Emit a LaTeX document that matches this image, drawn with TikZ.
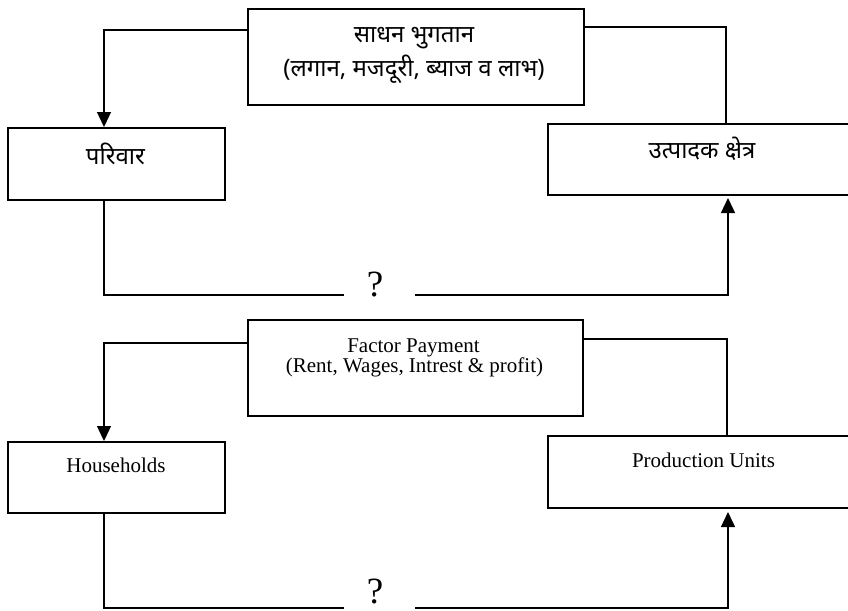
\documentclass[tikz,border=0pt]{standalone}
\usepackage{fontspec}
\setmainfont{Liberation Serif}
\newfontfamily\deva[Script=Devanagari]{Noto Sans}
\usetikzlibrary{arrows.meta}
\begin{document}
\begin{tikzpicture}[x=1pt,y=-1pt,
  boxst/.style={draw,line width=1.6pt,inner sep=0pt},
  conn/.style={line width=1.3pt},
  arr/.style={conn,-{Triangle[length=15pt,width=14pt]}},
  deng/.style={font=\fontsize{21}{24}\selectfont,anchor=base,inner sep=0pt},
  dhin/.style={font=\deva\fontsize{24}{28}\selectfont,anchor=base,inner sep=0pt},
  qst/.style={font=\fontsize{37}{40}\selectfont,inner sep=0pt}]
\useasboundingbox (0,0) rectangle (848,610);
% text nodes
\node[dhin] (tb1a) at (414,42) {साधन भुगतान};
\node[dhin] (tb1b) at (414,76) {(लगान, मजदूरी, ब्याज व लाभ)};
\node[dhin] (hh1t) at (115.5,164) {परिवार};
\node[dhin] (pu1t) at (702,158) {उत्पादक क्षेत्र};
\node[qst,anchor=base] (q1) at (375,296) {?};
\node[deng] (tb2a) at (413.5,352) {Factor Payment};
\node[deng] (tb2b) at (414.5,372) {(Rent, Wages, Intrest \& profit)};
\node[deng] (hh2t) at (116,472) {Households};
\node[deng] (pu2t) at (703.5,467) {Production Units};
\node[qst,anchor=base] (q2) at (375,603) {?};
\begin{scope}
\clip (0,0) rectangle (848,610);
% ---------- top (Hindi) ----------
\node[boxst,minimum width=336pt,minimum height=96pt,anchor=north west] (tb1) at (247,8) {};
\node[boxst,minimum width=217pt,minimum height=72pt,anchor=north west] (hh1) at (7,127) {};
\node[boxst,minimum width=313pt,minimum height=71pt,anchor=north west] (pu1) at (547,123) {};
\coordinate (l1a) at (tb1.west |- 0,30);
\coordinate (l1b) at (104,30);
\coordinate (l1c) at (hh1.north -| l1b);
\draw[arr] (l1a) -- (l1b) -- (l1c);
\coordinate (r1a) at (tb1.east |- 0,27);
\coordinate (r1b) at (726,27);
\coordinate (r1c) at (pu1.north -| r1b);
\draw[conn] (r1a) -- (r1b) -- (r1c);
\coordinate (b1a) at (hh1.south -| l1b);
\coordinate (b1b) at (104,295);
\coordinate (b1c) at (344,295);
\draw[conn] (b1a) -- (b1b) -- (b1c);
\coordinate (b1d) at (415,295);
\coordinate (b1e) at (728,295);
\coordinate (b1f) at (728,198);
\draw[arr] (b1d) -- (b1e) -- (b1f);
% ---------- bottom (English) ----------
\node[boxst,minimum width=335pt,minimum height=96pt,anchor=north west] (tb2) at (247,319) {};
\node[boxst,minimum width=217pt,minimum height=71pt,anchor=north west] (hh2) at (7,441) {};
\node[boxst,minimum width=313pt,minimum height=72pt,anchor=north west] (pu2) at (547,435) {};
\coordinate (l2a) at (tb2.west |- 0,343);
\coordinate (l2b) at (104,343);
\coordinate (l2c) at (hh2.north -| l2b);
\draw[arr] (l2a) -- (l2b) -- (l2c);
\coordinate (r2a) at (tb2.east |- 0,339);
\coordinate (r2b) at (727,339);
\coordinate (r2c) at (pu2.north -| r2b);
\draw[conn] (r2a) -- (r2b) -- (r2c);
\coordinate (b2a) at (hh2.south -| l2b);
\coordinate (b2b) at (104,608);
\coordinate (b2c) at (344,608);
\draw[conn] (b2a) -- (b2b) -- (b2c);
\coordinate (b2d) at (415,608);
\coordinate (b2e) at (728,608);
\coordinate (b2f) at (728,512);
\draw[arr] (b2d) -- (b2e) -- (b2f);
\end{scope}
\end{tikzpicture}
\end{document}
